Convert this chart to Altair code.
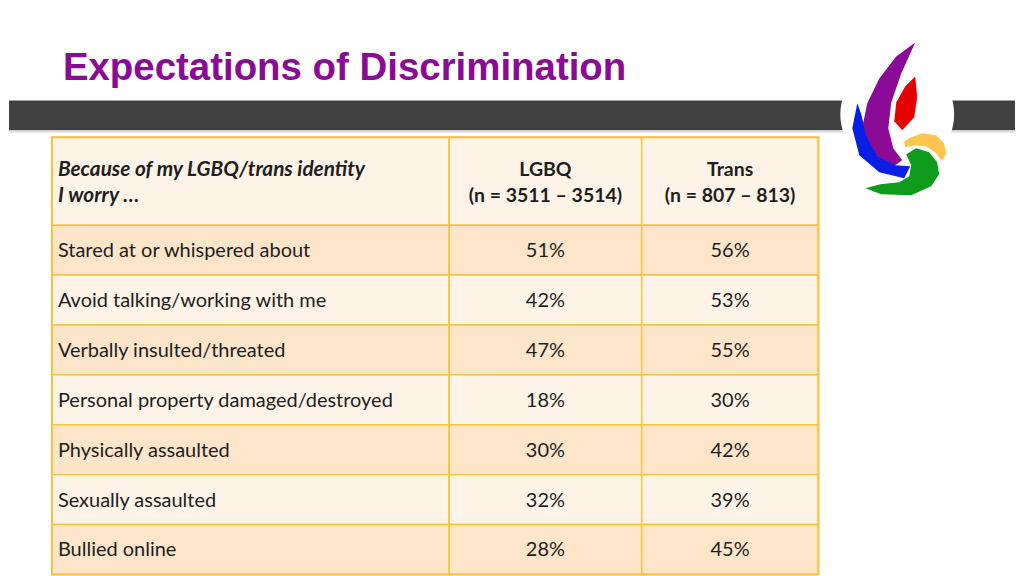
import altair as alt
import pandas as pd

# ---------------- data ----------------
title = "Expectations of Discrimination"
header_left = "Because of my LGBQ/trans identity\nI worry …"
group_labels = ["LGBQ\n(n = 3511 – 3514)", "Trans\n(n = 807 – 813)"]
items = [
    "Stared at or whispered about",
    "Avoid talking/working with me",
    "Verbally insulted/threated",
    "Personal property damaged/destroyed",
    "Physically assaulted",
    "Sexually assaulted",
    "Bullied online",
]
lgbq = [51, 42, 47, 18, 30, 32, 28]
trans = [56, 53, 55, 30, 42, 39, 45]

# ---------------- layout (reference pixel space) ----------------
W, H = 1008, 560
OFF = 8
col_edges = [51, 449, 642, 819]
head_top, head_bot, row_h = 137, 225, 50
FONT = "Lato"
TXT = "#1e1e1e"
BORDER = "#F5C242"
LIGHT = "#FEF3E7"
DARK = "#FDE5CA"
LH = 26

xs = alt.Scale(domain=[OFF, OFF + W], range=[0, W], nice=False, zero=False)
ys = alt.Scale(domain=[OFF, OFF + H], range=[0, H], nice=False, zero=False)


def X(f):
    return alt.X(f, type="quantitative", scale=xs, axis=None)


def Y(f):
    return alt.Y(f, type="quantitative", scale=ys, axis=None)


# cells
cells = []
for c in range(3):
    cells.append(dict(x0=col_edges[c], x1=col_edges[c + 1], y0=head_top, y1=head_bot, fill=LIGHT))
for i in range(len(items)):
    y0 = head_bot + i * row_h
    for c in range(3):
        cells.append(dict(x0=col_edges[c], x1=col_edges[c + 1], y0=y0, y1=y0 + row_h,
                          fill=DARK if i % 2 == 0 else LIGHT))
cells_df = pd.DataFrame(cells)

rows_df = pd.DataFrame({
    "item": items,
    "lgbq": [f"{v}%" for v in lgbq],
    "trans": [f"{v}%" for v in trans],
    "y": [head_bot + (i + 0.5) * row_h + 1 for i in range(len(items))],
    "xl": col_edges[0] + 6,
    "xc1": (col_edges[1] + col_edges[2]) / 2,
    "xc2": (col_edges[2] + col_edges[3]) / 2,
})

hc = (head_top + head_bot) / 2 - LH / 2 + 2
head_df = pd.DataFrame({
    "t": group_labels,
    "x": [(col_edges[1] + col_edges[2]) / 2, (col_edges[2] + col_edges[3]) / 2],
    "y": [hc] * 2,
})
headl_df = pd.DataFrame({"t": [header_left], "x": [col_edges[0] + 6], "y": [hc]})

deco = pd.DataFrame({"x0": [OFF], "x1": [OFF + W], "y0": [100], "y1": [130]})
one = pd.DataFrame({"x": [898], "y": [114]})
title_df = pd.DataFrame({"t": [title], "x": [62], "y": [80]})

# ---------------- layers ----------------
bar = alt.Chart(deco).mark_rect(color="#404040").encode(x=X("x0"), x2="x1", y=Y("y0"), y2="y1")
gline = alt.Chart(deco).mark_rule(color="#dcdcdc", strokeWidth=1.5).encode(
    x=X("x0"), x2="x1", y=alt.Y("yy:Q", scale=ys, axis=None)).transform_calculate(yy="131.5")
cut = alt.Chart(one).mark_arc(color="white", radius=57, theta=0, theta2=6.2832).encode(x=X("x"), y=Y("y"))

# logo as custom symbol paths (pixel points relative to centre)
cx, cy, half = 900, 118, 80
shapes = {
    "#8B0A96": [(916, 42), (897, 56), (880, 78), (868, 103), (863, 127), (866, 147), (877, 161), (893, 167),
                (903, 160), (894, 148), (889, 128), (892, 102), (902, 73)],
    "#E60000": [(916, 76), (918, 97), (915, 117), (903, 130), (895, 121), (897, 102), (906, 86)],
    "#0A1FE6": [(858, 103), (853, 128), (860, 155), (880, 172), (905, 178), (911, 166), (896, 165),
                (878, 156), (867, 136), (862, 114)],
    "#0E9A1A": [(907, 154), (917, 148), (930, 152), (938, 162), (940, 174), (932, 186), (912, 195),
                (882, 194), (866, 188), (881, 184), (900, 182), (910, 176), (912, 165)],
    "#FCC64E": [(905, 141), (912, 137), (923, 133), (937, 135), (945, 143), (947, 153), (943, 161),
                (937, 153), (927, 146), (915, 145), (906, 147)],
}
logo_layers = []
for col, pts in shapes.items():
    path = "M" + " L".join(f"{(px - cx) / half:.4f},{(py - cy) / half:.4f}" for px, py in pts) + " Z"
    logo_layers.append(
        alt.Chart(pd.DataFrame({"x": [cx], "y": [cy]})).mark_point(
            shape=path, size=(2 * half) ** 2, filled=True, color=col, opacity=1, strokeWidth=0
        ).encode(x=X("x"), y=Y("y"))
    )

ttl = alt.Chart(title_df).mark_text(
    font="Liberation Sans", fontSize=38.5, fontWeight="bold", color="#8B0A96", align="left", baseline="alphabetic"
).encode(x=X("x"), y=Y("y"), text="t:N")

rects = alt.Chart(cells_df).mark_rect(stroke=BORDER, strokeWidth=1.5).encode(
    x=X("x0"), x2="x1", y=Y("y0"), y2="y1", fill=alt.Fill("fill:N", scale=None))

outer = alt.Chart(pd.DataFrame({"x0": [col_edges[0]], "x1": [col_edges[-1]], "y0": [head_top],
                                "y1": [head_bot + len(items) * row_h]})).mark_rect(
    fill=None, stroke=BORDER, strokeWidth=2).encode(x=X("x0"), x2="x1", y=Y("y0"), y2="y1")

FS = 20
t_items = alt.Chart(rows_df).mark_text(font=FONT, fontSize=FS, color=TXT, align="left", baseline="middle").encode(
    x=X("xl"), y=Y("y"), text="item:N")
t_l = alt.Chart(rows_df).mark_text(font=FONT, fontSize=FS, color=TXT, align="center", baseline="middle").encode(
    x=X("xc1"), y=Y("y"), text="lgbq:N")
t_t = alt.Chart(rows_df).mark_text(font=FONT, fontSize=FS, color=TXT, align="center", baseline="middle").encode(
    x=X("xc2"), y=Y("y"), text="trans:N")
t_h = alt.Chart(head_df).mark_text(font=FONT, fontSize=19.5, fontWeight="bold", color=TXT, align="center",
                                   baseline="middle", lineBreak="\n", lineHeight=LH).encode(
    x=X("x"), y=Y("y"), text="t:N")
t_hl = alt.Chart(headl_df).mark_text(font=FONT, fontSize=20.8, fontWeight="bold", fontStyle="italic", color=TXT,
                                     align="left", baseline="middle", lineBreak="\n", lineHeight=LH).encode(
    x=X("x"), y=Y("y"), text="t:N")

chart = alt.layer(bar, gline, cut, *logo_layers, ttl, rects, outer, t_items, t_l, t_t, t_h, t_hl).properties(
    width=W, height=H, padding=0, background="white"
).configure_view(strokeWidth=0)

chart.save("out.html", embed_options={"renderer": "svg", "actions": False})
